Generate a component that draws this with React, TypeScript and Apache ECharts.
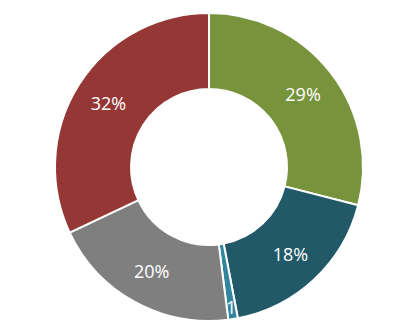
import React, { useEffect, useRef } from "react";
import * as echarts from "echarts";

// Share of each segment, in percent, clockwise from 12 o'clock
const segments = ["A", "B", "C", "D", "E"];
const shares = [29, 18, 1, 20, 32];
const colors = ["#77933C", "#215968", "#31859C", "#7F7F7F", "#953735"];

export default function App() {
  const ref = useRef<HTMLDivElement>(null);

  useEffect(() => {
    if (!ref.current) return;
    const chart = echarts.init(ref.current, null, { renderer: "svg" });
    const data = segments.map((name, i) => ({
      name,
      value: shares[i],
      itemStyle: { color: colors[i] },
    }));
    const labelFont = {
      color: "#FFFFFF",
      fontSize: 18,
      fontFamily: "'Open Sans', 'Liberation Sans', sans-serif",
    };
    chart.setOption({
      animation: false,
      backgroundColor: "#FFFFFF",
      series: [
        {
          type: "pie",
          center: [209, 167],
          radius: [78, 154],
          startAngle: 90,
          clockwise: true,
          percentPrecision: 0,
          avoidLabelOverlap: false,
          itemStyle: { borderColor: "#FFFFFF", borderWidth: 2 },
          label: {
            show: true,
            position: "inside",
            formatter: "{d}%",
            ...labelFont,
          },
          labelLine: { show: false },
          emphasis: { disabled: true },
          data: data.map((d, i) =>
            shares[i] < 5 ? { ...d, label: { show: false } } : d
          ),
        },
        {
          // thin slices: label sits near the outer rim, clipped to "1"
          type: "pie",
          center: [209, 167],
          radius: [124, 154],
          startAngle: 90,
          clockwise: true,
          silent: true,
          percentPrecision: 0,
          avoidLabelOverlap: false,
          itemStyle: { color: "rgba(0,0,0,0)", borderWidth: 0 },
          label: {
            show: true,
            position: "inside",
            formatter: (p: any) => (shares[p.dataIndex] < 5 ? String(Math.round(p.percent)) : ""),
            ...labelFont,
          },
          labelLine: { show: false },
          emphasis: { disabled: true },
          data: segments.map((name, i) => ({
            name,
            value: shares[i],
            itemStyle: { color: "rgba(0,0,0,0)" },
          })),
        },
      ],
    });
    return () => chart.dispose();
  }, []);

  return (
    <div
      ref={ref}
      style={{ position: "absolute", left: 0, top: 0, width: 412, height: 333 }}
    />
  );
}
